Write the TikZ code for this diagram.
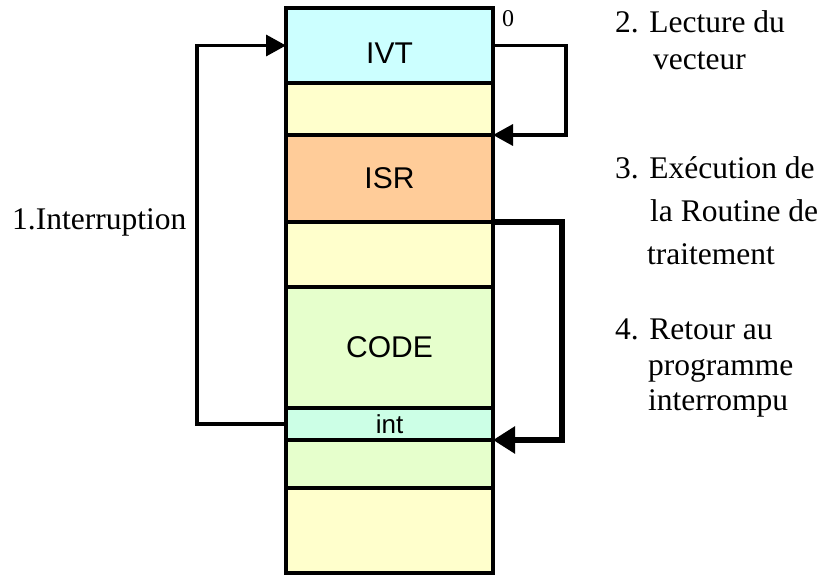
\documentclass[tikz,border=0pt]{standalone}
\usepackage{fontspec}
\setmainfont{Liberation Serif}
\newfontfamily\boxfont{Liberation Sans}
\usetikzlibrary{arrows.meta}
\definecolor{ivtcol}{HTML}{CCFFFF}
\definecolor{yelcol}{HTML}{FFFFCC}
\definecolor{isrcol}{HTML}{FFCC99}
\definecolor{codecol}{HTML}{E6FFCC}
\definecolor{intcol}{HTML}{CCFFE6}
\tikzset{
  memseg/.style={draw=black, line width=3.5pt, minimum width=207pt, inner sep=0pt, outer sep=0pt,
    font=\boxfont\fontsize{30}{30}\selectfont},
  note/.style={anchor=base west, inner sep=0pt, font=\fontsize{31.5}{31.5}\selectfont},
  conn/.style={line width=3.5pt, -{Triangle[length=20pt,width=21pt]}},
  connthick/.style={line width=6pt, -{Triangle[length=22pt,width=26pt]}}
}
\begin{document}
\begin{tikzpicture}[x=1pt,y=-1pt]
\useasboundingbox (0,0) rectangle (823,575);
% memory segments
\node[memseg, fill=ivtcol, minimum height=75pt] (ivtbox) at (389.5,45.5) {};
\node[memseg, fill=yelcol, minimum height=52pt] (yel1) at (389.5,109) {};
\node[memseg, fill=isrcol, minimum height=87pt] (isrbox) at (389.5,178.5) {ISR};
\node[memseg, fill=yelcol, minimum height=65pt] (yel2) at (389.5,254.5) {};
\node[memseg, fill=codecol, minimum height=121pt] (codebox) at (389.5,347.5) {CODE};
\node[memseg, fill=intcol, minimum height=32pt, font=\boxfont\fontsize{26}{26}\selectfont] (intbox) at (389.5,424) {int};
\node[memseg, fill=codecol, minimum height=48pt] (grn2) at (389.5,464) {};
\node[memseg, fill=yelcol, minimum height=85pt] (yel3) at (389.5,530.5) {};
\node[inner sep=0pt, font=\boxfont\fontsize{30}{30}\selectfont] (ivtlabel) at (389.5,53) {IVT};
% address
\node[anchor=base, inner sep=0pt, font=\fontsize{24}{24}\selectfont] (zero) at (508,27) {0};
% helper coordinates
\coordinate (lx) at (197,0);
\coordinate (r1) at (566,0);
\coordinate (r2) at (562,0);
% connectors
\draw[conn] (intbox.west) -- (intbox.west -| lx) |- (ivtbox.west);
\draw[conn] (ivtbox.east) -- (ivtbox.east -| r1) |- (isrbox.north east);
\draw[connthick] (isrbox.south east) -- (isrbox.south east -| r2) |- (grn2.north east);
% labels
\node[note] (l1) at (12,230) {1.Interruption};
\node[note] (l2a) at (615,33) {2. Lecture du};
\node[note] (l2b) at (653,70) {vecteur};
\node[note] (l3a) at (615,179) {3. Exécution de};
\node[note] (l3b) at (650,222) {la Routine de};
\node[note] (l3c) at (647,265) {traitement};
\node[note] (l4a) at (615,339) {4. Retour au};
\node[note] (l4b) at (648,375) {programme};
\node[note] (l4c) at (648,410) {interrompu};
\end{tikzpicture}
\end{document}
